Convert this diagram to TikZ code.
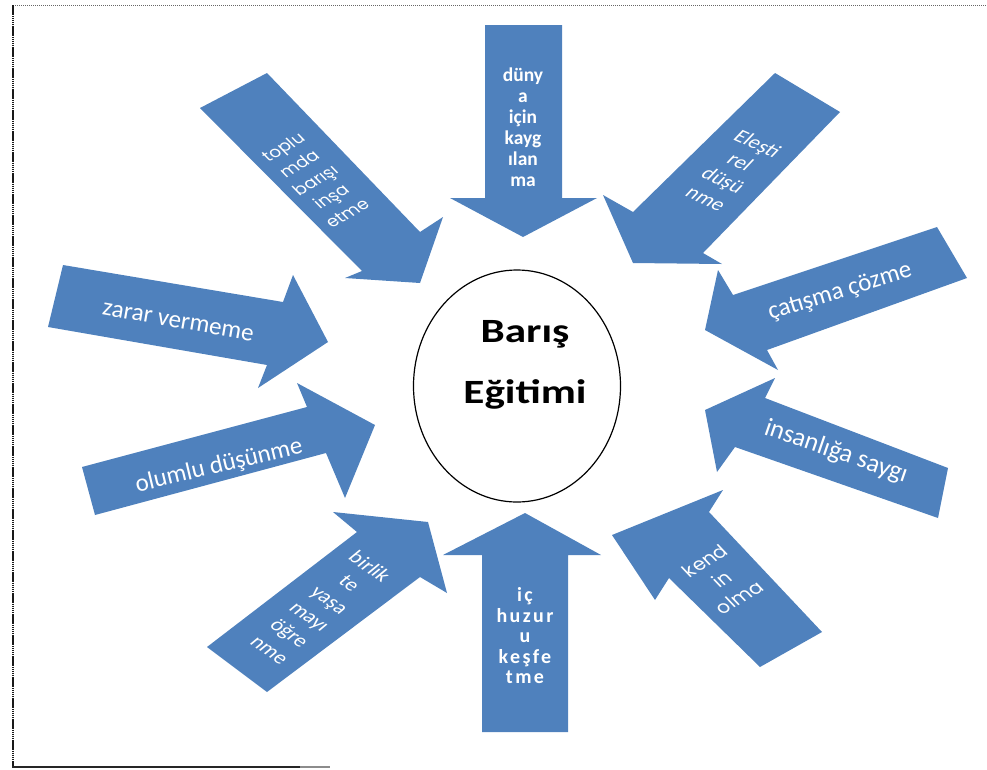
\documentclass[tikz,border=0pt]{standalone}
\usepackage{fontspec}
\setmainfont{Carlito}
\newfontfamily\roundfont{Poppins}
\newfontfamily\spacedfont[LetterSpace=12]{Carlito}
\usetikzlibrary{shapes.geometric}
\definecolor{arrowblue}{RGB}{79,129,189}
\begin{document}
\begin{tikzpicture}[x=1pt,y=-1pt,
  blockarrow/.style={fill=arrowblue,draw=none},
  lbl/.style={text=white,align=center,inner sep=0pt},
  frameline/.style={gray!80!black,dash pattern=on 1.2pt off 0.8pt,line width=0.8pt}]
\useasboundingbox (0,0) rectangle (987,769);

% page frame
\draw[frameline] (13,5) -- (987,5);
\draw[black!90,dash pattern=on 1.5pt off 0.6pt,line width=1.3pt] (13,5) -- (13,767);
\draw[black!85,line width=1.6pt] (12,767) -- (300,767);
\draw[black!45,line width=1.4pt] (300,767) -- (330,767);

% arrows
\fill[blockarrow] (485,25) -- (562,25) -- (562,198) -- (597,198) -- (523,237) -- (450,198) -- (485,198) -- cycle;
\fill[blockarrow] (482,732) -- (568,732) -- (568,555) -- (601,555) -- (525,513) -- (443,555) -- (482,555) -- cycle;
\fill[blockarrow] (267,73) -- (420,232) -- (443,217) -- (420,283) -- (345,278) -- (362,271) -- (200,108) -- cycle;
\fill[blockarrow] (775,73) -- (633,212) -- (603,195) -- (633,263) -- (722,264) -- (703,253) -- (840,112) -- cycle;
\fill[blockarrow] (937,227) -- (733,295) -- (718,270) -- (705,330) -- (778,370) -- (767,350) -- (967,278) -- cycle;
\fill[blockarrow] (948,468) -- (765,398) -- (775,378) -- (705,410) -- (717,472) -- (735,447) -- (938,518) -- cycle;
\fill[blockarrow] (822,632) -- (709,512) -- (723,490) -- (612,535) -- (655,600) -- (669,578) -- (760,667) -- cycle;
\fill[blockarrow] (207,647) -- (357,532) -- (333,512) -- (428,522) -- (447,593) -- (420,577) -- (267,692) -- cycle;
\fill[blockarrow] (63,265) -- (283,302) -- (293,275) -- (328,342) -- (258,388) -- (267,365) -- (48,327) -- cycle;
\fill[blockarrow] (82,467) -- (307,407) -- (297,383) -- (375,425) -- (345,498) -- (326,453) -- (95,515) -- cycle;

% labels
\node[lbl,font=\bfseries\fontsize{19.5}{21}\selectfont] (world) at (523,127) {düny\\a\\için\\kayg\\ılan\\ma};
\node[lbl,font=\spacedfont\bfseries\fontsize{20}{20.5}\selectfont] (peace) at (525,636) {iç\\huzur\\u\\keşfe\\tme};
\node[lbl,font=\roundfont\fontsize{17}{23}\selectfont,cm={0.866,0.5,-0.696,0.718,(0,0)}] (society) at (315,180) {toplu\\mda\\barışı\\inşa\\etme};
\node[lbl,font=\fontsize{21}{25}\selectfont,cm={0.914,-0.407,0.687,0.727,(0,0)}] (critical) at (732,171) {Eleşti\\rel\\düşü\\nme};
\node[lbl,font=\fontsize{25}{25}\selectfont,rotate=17] (conflict) at (840,292) {çatışma çözme};
\node[lbl,font=\fontsize{26}{26}\selectfont,rotate=-19] (respect) at (836,452) {insanlığa saygı};
\node[lbl,font=\roundfont\fontsize{19}{25}\selectfont,cm={0.853,0.522,-0.687,0.727,(0,0)}] (self) at (722,579) {kend\\in\\olma};
\node[lbl,font=\fontsize{21}{26}\selectfont,cm={0.819,-0.574,0.769,0.639,(0,0)}] (together) at (320,608) {birlik\\te\\yaşa\\mayı\\öğre\\nme};
\node[lbl,font=\fontsize{25}{25}\selectfont,rotate=-10] (harm) at (178,322) {zarar vermeme};
\node[lbl,font=\fontsize{25}{25}\selectfont,rotate=13.5] (positive) at (219,466) {olumlu düşünme};

% centre
\node[draw=black,line width=1.2pt,ellipse,minimum width=207pt,minimum height=232pt,inner sep=0pt] (core) at (517,386) {};
\node[font=\bfseries\fontsize{34}{34}\selectfont,anchor=base,xscale=1.27] (title1) at (525,342) {Barış};
\node[font=\bfseries\fontsize{34}{34}\selectfont,anchor=base,xscale=1.27] (title2) at (525,403) {Eğitimi};
\end{tikzpicture}
\end{document}
